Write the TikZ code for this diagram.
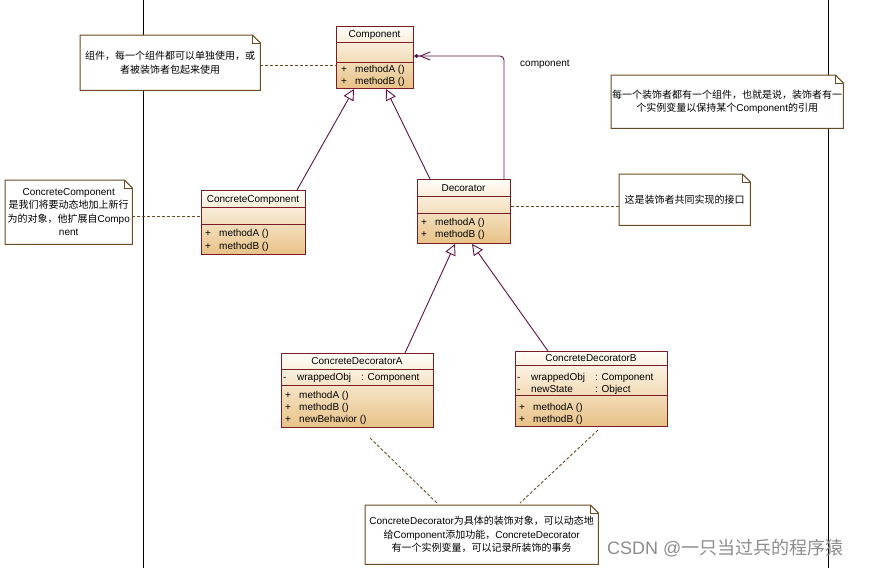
\documentclass[tikz,border=0pt]{standalone}
\usepackage{fontspec}
\setmainfont{Liberation Sans}
\newfontfamily\cjk{Noto Sans CJK SC}
\usetikzlibrary{arrows.meta,calc}

\definecolor{classborder}{RGB}{122,28,36}
\definecolor{classtop}{RGB}{255,253,247}
\definecolor{classbottom}{RGB}{232,194,135}
\definecolor{notebrown}{RGB}{107,75,35}
\definecolor{linkpurple}{RGB}{96,16,72}
\definecolor{markgray}{RGB}{140,140,140}

\newcommand{\umlvis}[1]{\makebox[14pt][l]{#1}}
\newcommand{\umlattr}[2]{\makebox[64pt][l]{#1}#2}

\tikzset{
  classbox/.style={anchor=north west, draw=classborder, line width=1pt,
    top color=classtop, bottom color=classbottom, inner sep=0pt},
  classsep/.style={draw=classborder, line width=1pt},
  txt/.style={inner sep=0pt, text height=7pt, text depth=0pt,
    font=\fontsize{10}{12}\selectfont},
  member/.style={txt, anchor=west},
  notebox/.style={anchor=north west, fill=white, inner sep=0pt, align=center,
    font=\fontsize{10}{13.5}\selectfont},
  noteline/.style={draw=notebrown, line width=1pt},
  notelink/.style={draw=notebrown, line width=0.9pt, dash pattern=on 3pt off 2pt},
  inherit/.style={draw=linkpurple, line width=0.9pt,
    -{Triangle[length=11pt,width=11pt,fill=white]}},
  assoc/.style={draw=linkpurple, line width=0.9pt, rounded corners=4pt,
    -{Straight Barb[length=10pt,width=8pt]Diamond[length=5pt,width=4pt]}}
}

\begin{document}
\begin{tikzpicture}[x=1pt,y=-1pt]
\useasboundingbox (0,0) rectangle (875,568);
\draw[line width=1pt] (143,0) -- (143,568);
\draw[line width=1pt] (828,0) -- (828,568);

% notes
\node[notebox, minimum width=180pt, minimum height=55pt] (note1) at (80,35)
  {{\cjk 组件，每一个组件都可以单独使用，或}\\{\cjk 者被装饰者包起来使用}};
\node[notebox, minimum width=232pt, minimum height=53pt] (note2) at (611,75)
  {{\cjk 每一个装饰者都有一个组件，也就是说，装饰者有一}\\{\cjk 个实例变量以保持某个}Component{\cjk 的引用}};
\node[notebox, minimum width=127pt, minimum height=64pt] (note3) at (5,180)
  {ConcreteComponent\\{\cjk 是我们将要动态地加上新行}\\{\cjk 为的对象，他扩展自}Compo\\nent};
\node[notebox, minimum width=131pt, minimum height=51pt] (note4) at (619,174)
  {{\cjk 这是装饰者共同实现的接口}};
\node[notebox, minimum width=233pt, minimum height=59pt] (note5) at (365,505)
  {ConcreteDecorator{\cjk 为具体的装饰对象，可以动态地}\\{\cjk 给}Component{\cjk 添加功能，}ConcreteDecorator\\{\cjk 有一个实例变量，可以记录所装饰的事务}};
\foreach \n in {note1,note2,note3,note4,note5}{
  \draw[noteline] (\n.north west) -- ([xshift=-8pt]\n.north east) -- ([yshift=-8pt]\n.north east)
    -- (\n.south east) -- (\n.south west) -- cycle;
  \draw[noteline, line width=0.6pt] ([xshift=-8pt]\n.north east) -- ([xshift=-8pt,yshift=-8pt]\n.north east)
    -- ([yshift=-8pt]\n.north east);
}

% classes
\node[classbox, minimum width=77pt, minimum height=62pt] (comp) at (336,26) {};
\draw[classsep] ([yshift=-16pt]comp.north west) -- ([yshift=-16pt]comp.north east);
\draw[classsep] ([yshift=-36pt]comp.north west) -- ([yshift=-36pt]comp.north east);
\node[txt] (compname) at (374.5,34) {Component};
\node[member] (compopa) at (341,69) {\umlvis{+}methodA ()};
\node[member] (compopb) at (341,81) {\umlvis{+}methodB ()};

\node[classbox, minimum width=104pt, minimum height=64pt] (cc) at (201,190) {};
\draw[classsep] ([yshift=-17pt]cc.north west) -- ([yshift=-17pt]cc.north east);
\draw[classsep] ([yshift=-34pt]cc.north west) -- ([yshift=-34pt]cc.north east);
\node[txt] (ccname) at (253,199) {ConcreteComponent};
\node[member] (ccopa) at (205,233) {\umlvis{+}methodA ()};
\node[member] (ccopb) at (205,246) {\umlvis{+}methodB ()};

\node[classbox, minimum width=93pt, minimum height=64pt] (dec) at (417,179) {};
\draw[classsep] ([yshift=-17pt]dec.north west) -- ([yshift=-17pt]dec.north east);
\draw[classsep] ([yshift=-34pt]dec.north west) -- ([yshift=-34pt]dec.north east);
\node[txt] (decname) at (463.5,188) {Decorator};
\node[member] (decopa) at (421,222) {\umlvis{+}methodA ()};
\node[member] (decopb) at (421,234) {\umlvis{+}methodB ()};

\node[classbox, minimum width=152pt, minimum height=74pt] (cdA) at (281,353) {};
\draw[classsep] ([yshift=-16pt]cdA.north west) -- ([yshift=-16pt]cdA.north east);
\draw[classsep] ([yshift=-32pt]cdA.north west) -- ([yshift=-32pt]cdA.north east);
\node[txt] (cdAname) at (357,361) {ConcreteDecoratorA};
\node[member] (cdAattr) at (283,377) {\umlvis{-}\umlattr{wrappedObj}{: Component}};
\node[member] (cdAopa) at (285,395) {\umlvis{+}methodA ()};
\node[member] (cdAopb) at (285,407) {\umlvis{+}methodB ()};
\node[member] (cdAopc) at (285,419) {\umlvis{+}newBehavior ()};

\node[classbox, minimum width=152pt, minimum height=75pt] (cdB) at (515,351) {};
\draw[classsep] ([yshift=-14pt]cdB.north west) -- ([yshift=-14pt]cdB.north east);
\draw[classsep] ([yshift=-44pt]cdB.north west) -- ([yshift=-44pt]cdB.north east);
\node[txt] (cdBname) at (591,358) {ConcreteDecoratorB};
\node[member] (cdBattra) at (517,377) {\umlvis{-}\umlattr{wrappedObj}{: Component}};
\node[member] (cdBattrb) at (517,389) {\umlvis{-}\umlattr{newState}{: Object}};
\node[member] (cdBopa) at (519,407) {\umlvis{+}methodA ()};
\node[member] (cdBopb) at (519,419) {\umlvis{+}methodB ()};

% relations
\draw[inherit] ([xshift=-9pt]cc.north east) -- ([xshift=18pt]comp.south west);
\draw[inherit] ([xshift=13pt]dec.north west) -- ([xshift=-28pt]comp.south east);
\draw[inherit] ([xshift=124pt]cdA.north west) -- ([xshift=38pt]dec.south west);
\draw[inherit] ([xshift=33pt]cdB.north west) -- ([xshift=55pt]dec.south west);
\draw[assoc] ([xshift=-7pt]dec.north east) |- ([yshift=-30pt]comp.north east);
\node[txt, anchor=west] (rolename) at (520,63) {component};

% note links
\coordinate (n1out) at ([yshift=-3pt]note1.east);
\coordinate (n3out) at ([yshift=-4pt]note3.east);
\coordinate (decout) at ([yshift=5pt]dec.east);
\coordinate (tailA) at (370,438);
\coordinate (tailB) at (598,430);
\draw[notelink] (n1out) -- (n1out -| comp.west);
\draw[notelink] (n3out) -- (n3out -| cc.west);
\draw[notelink] (decout) -- (decout -| note4.west);
\draw[notelink] (tailA) -- ([xshift=72pt,yshift=2pt]note5.north west);
\draw[notelink] (tailB) -- ([xshift=155pt,yshift=2pt]note5.north west);

\node[anchor=west, text=markgray, inner sep=0pt, font=\fontsize{18}{20}\selectfont] (mark) at (607,548)
  {CSDN @{\cjk 一只当过兵的程序猿}};
\end{tikzpicture}
\end{document}
